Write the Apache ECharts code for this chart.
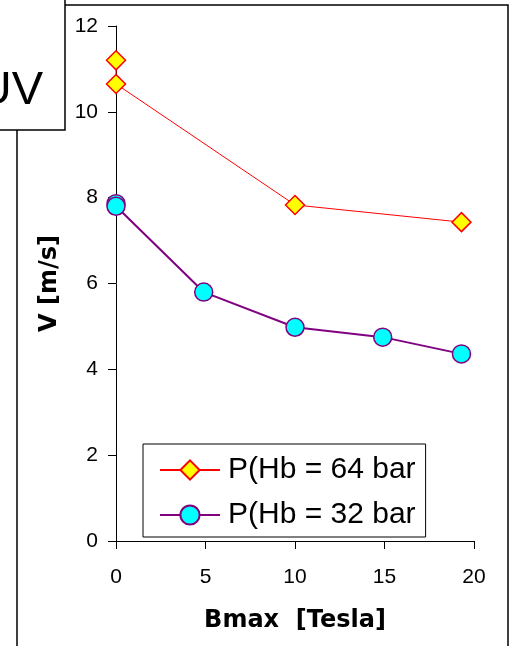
<!DOCTYPE html>
<html>
<head>
<meta charset="utf-8">
<script src="https://cdn.jsdelivr.net/npm/echarts@6/dist/echarts.min.js"></script>
<style>
  html, body { margin: 0; padding: 0; background: #fff; }
  #chart { width: 512px; height: 646px; }
</style>
</head>
<body>
<div id="chart"></div>
<script>
// values
var bmax64 = [0, 0, 10, 19.3];
var speed64 = [11.2, 10.65, 7.83, 7.43];
var bmax32 = [0, 0, 4.9, 10, 14.9, 19.3];
var speed32 = [7.86, 7.8, 5.8, 4.98, 4.75, 4.36];
var seriesNames = ['P(Hb = 64 bar', 'P(Hb = 32 bar'];

function pairs(xs, ys) {
  return xs.map(function (x, i) { return [x, ys[i]]; });
}

var chart = echarts.init(document.getElementById('chart'), null, { renderer: 'canvas' });

var tickFont = { color: '#000', fontSize: 21, fontFamily: 'Liberation Sans, Arial, sans-serif' };
var titleFont = { color: '#000', fontSize: 24, fontWeight: 'bold', fontFamily: 'DejaVu Sans, sans-serif' };

chart.setOption({
  animation: false,
  backgroundColor: '#fff',
  grid: { left: 116, right: 38, top: 26, bottom: 105, outerBoundsMode: 'none' },
  xAxis: {
    type: 'value', min: 0, max: 20, interval: 5,
    name: 'Bmax  [Tesla]', nameLocation: 'middle', nameGap: 68, nameMoveOverlap: false,
    nameTextStyle: titleFont,
    axisLine: { onZero: false, lineStyle: { color: '#000', width: 1 } },
    axisTick: { length: 8, lineStyle: { color: '#000' } },
    axisLabel: Object.assign({ margin: 26 }, tickFont),
    splitLine: { show: false }
  },
  yAxis: {
    type: 'value', min: 0, max: 12, interval: 2,
    name: 'V [m/s]', nameLocation: 'middle', nameGap: 54, nameRotate: 90, nameMoveOverlap: false,
    nameTextStyle: titleFont,
    axisLine: { show: true, lineStyle: { color: '#000', width: 1 } },
    axisTick: { show: true, length: 8, lineStyle: { color: '#000' } },
    axisLabel: Object.assign({ margin: 18 }, tickFont),
    splitLine: { show: false }
  },
  legend: {
    orient: 'vertical', left: 143, top: 444,
    padding: [11, 10, 7, 16],
    itemGap: 15, itemWidth: 60, itemHeight: 24,
    borderColor: '#000', borderWidth: 1, backgroundColor: '#fff',
    textStyle: { color: '#000', fontSize: 30, lineHeight: 30, padding: [0, 0, 0, 3], fontFamily: 'Liberation Sans, Arial, sans-serif' },
    data: seriesNames
  },
  graphic: [
    { type: 'rect', z: 0, silent: true,
      shape: { x: 17, y: 5, width: 491, height: 700 },
      style: { fill: 'none', stroke: '#000', lineWidth: 1.5 } },
    { type: 'rect', z: 10, silent: true,
      shape: { x: -10, y: -10, width: 75, height: 140 },
      style: { fill: '#fff', stroke: '#000', lineWidth: 1.5 } },
    { type: 'text', z: 11, silent: true, x: 43, y: 91,
      style: { text: 'UV', fill: '#000', fontSize: 47, fontFamily: 'Liberation Sans, Arial, sans-serif',
               align: 'right', verticalAlign: 'middle' } }
  ],
  series: [
    {
      name: seriesNames[0], type: 'line', z: 3,
      data: pairs(bmax64, speed64),
      symbol: 'diamond', symbolSize: 19,
      lineStyle: { color: '#ff0000', width: 1 },
      itemStyle: { color: '#ffff00', borderColor: '#ff0000', borderWidth: 1.5 }
    },
    {
      name: seriesNames[1], type: 'line', z: 2,
      data: pairs(bmax32, speed32),
      symbol: 'circle', symbolSize: 18,
      lineStyle: { color: '#800080', width: 2 },
      itemStyle: { color: '#00ffff', borderColor: '#800080', borderWidth: 1.5 }
    }
  ]
});
</script>
</body>
</html>
